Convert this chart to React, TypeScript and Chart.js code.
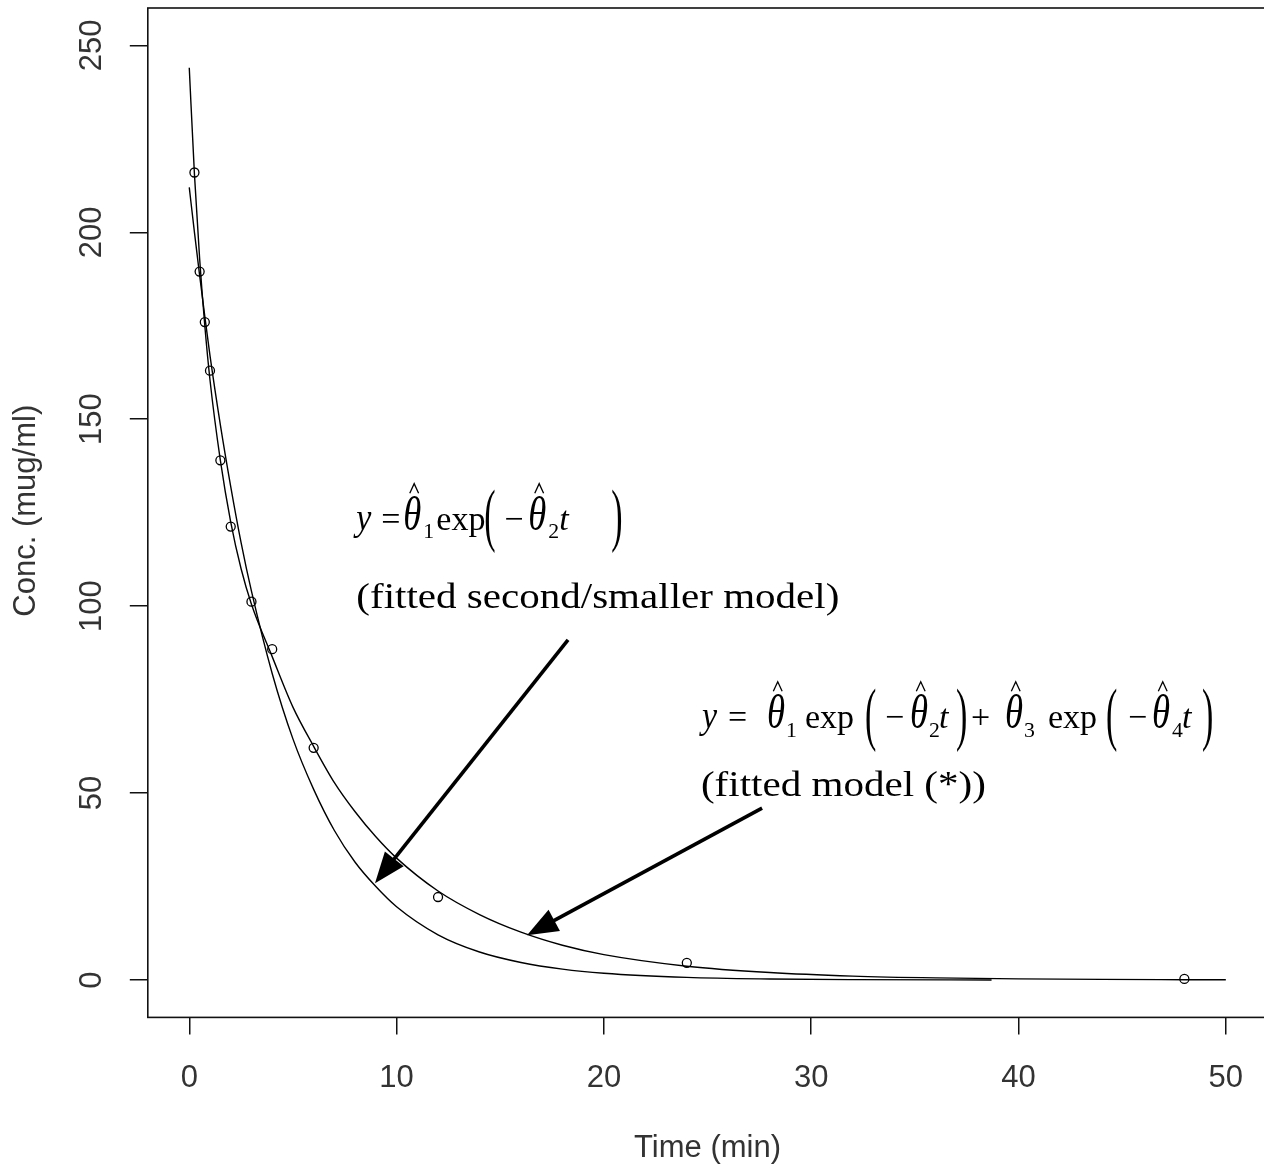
import React, { useEffect, useRef } from "react";
import { Chart, registerables } from "chart.js";

Chart.register(...registerables);

// ---- Observed concentrations ----
const obsTime = [0.25, 0.5, 0.75, 1, 1.5, 2, 3, 4, 6, 12, 24, 48];
const obsConc = [216, 189.5, 176, 163, 139, 121.3, 101.2, 88.5, 62.1, 22.2, 4.6, 0.3];

// ---- Fitted model (*) curve ----
const fullFitTime = [0, 0.25, 0.5, 0.75, 1, 1.5, 2, 2.5, 3, 4, 5, 6, 7, 8, 9, 10, 12, 14, 16, 18, 20, 24, 28, 32, 36, 40, 44, 48, 50];
const fullFitConc = [244, 215.5, 193, 175, 160.5, 139, 122.5, 110, 100.5, 86.5, 73, 62.5, 52.8, 45, 38.3, 32.6, 23.8, 17.5, 12.8, 9.3, 6.8, 3.7, 2.0, 1.05, 0.56, 0.3, 0.16, 0.09, 0.06];

// ---- Fitted second/smaller model curve ----
const smallFitTime = [0, 0.25, 0.5, 0.75, 1, 1.5, 2, 2.5, 3, 4, 5, 6, 7, 8, 9, 10, 12, 14, 16, 18, 20, 24, 28, 32, 38.7];
const smallFitConc = [212, 200, 188.5, 177.5, 167, 148.5, 132, 117, 104, 82, 64.5, 51, 40, 31.5, 25, 19.6, 12.1, 7.5, 4.7, 2.9, 1.8, 0.7, 0.27, 0.1, 0.02];

// ---- Axis settings ----
const xRange = [-2, 52];
const yRange = [-10, 260];
const xStep = 10;
const yStep = 50;
const xTitle = "Time (min)";
const yTitle = "Conc. (mug/ml)";

// ---- Annotations ----
const label1 = "(fitted second/smaller model)";
const label2 = "(fitted model (*))";

const CANVAS_W = 1290;
const CANVAS_H = 1169;
const AREA = { left: 147.8, top: 8, right: 1267.3, bottom: 1017.4 };

const SANS = '"Liberation Sans", Arial, sans-serif';
const SERIF = '"Liberation Serif", "Times New Roman", serif';
const LABEL_INK = "#333333";

type Tok = { s: string; dx: number; it?: boolean; hat?: boolean; sub?: string; subDx?: number; paren?: boolean };

// formula token layouts: dx = offset in px from the formula's left edge
const formula1: Tok[] = [
  { s: "y", dx: 0, it: true },
  { s: "=", dx: 25 },
  { s: "θ", dx: 47, it: true, hat: true, sub: "1", subDx: 20 },
  { s: "exp", dx: 80 },
  { s: "(", dx: 128, paren: true },
  { s: "−", dx: 148 },
  { s: "θ", dx: 172, it: true, hat: true, sub: "2", subDx: 20 },
  { s: "t", dx: 203, it: true },
  { s: ")", dx: 255, paren: true },
];

const formula2: Tok[] = [
  { s: "y", dx: 1, it: true },
  { s: "=", dx: 27 },
  { s: "θ", dx: 66, it: true, hat: true, sub: "1", subDx: 19 },
  { s: "exp", dx: 104 },
  { s: "(", dx: 164, paren: true },
  { s: "−", dx: 184 },
  { s: "θ", dx: 209, it: true, hat: true, sub: "2", subDx: 19 },
  { s: "t", dx: 238, it: true },
  { s: ")", dx: 255, paren: true },
  { s: "+", dx: 270 },
  { s: "θ", dx: 304, it: true, hat: true, sub: "3", subDx: 19 },
  { s: "exp", dx: 347 },
  { s: "(", dx: 405, paren: true },
  { s: "−", dx: 427 },
  { s: "θ", dx: 451, it: true, hat: true, sub: "4", subDx: 20 },
  { s: "t", dx: 481, it: true },
  { s: ")", dx: 501, paren: true },
];

function drawFormula(ctx: CanvasRenderingContext2D, toks: Tok[], x: number, y: number, fs: number) {
  ctx.save();
  ctx.fillStyle = "#000";
  ctx.strokeStyle = "#000";
  ctx.textBaseline = "alphabetic";
  ctx.textAlign = "left";
  for (const t of toks) {
    const px = x + t.dx;
    if (t.paren) {
      ctx.font = `${fs}px ${SERIF}`;
      ctx.save();
      const c = 0.24 * fs;
      ctx.translate(px, y - c);
      ctx.scale(1, 2.05);
      ctx.fillText(t.s, 0, c);
      ctx.restore();
    } else if (t.hat) {
      const tfs = fs * 1.08;
      ctx.font = `italic ${tfs}px ${SERIF}`;
      ctx.save();
      ctx.translate(px, y);
      ctx.scale(1, 1.3);
      ctx.fillText(t.s, 0, 0);
      ctx.restore();
      const w = ctx.measureText(t.s).width;
      const hx = px + w * 0.6;
      ctx.lineWidth = 1.3;
      ctx.beginPath();
      ctx.moveTo(hx - 0.13 * fs, y - 1.08 * fs);
      ctx.lineTo(hx, y - 1.36 * fs);
      ctx.lineTo(hx + 0.13 * fs, y - 1.08 * fs);
      ctx.stroke();
      if (t.sub) {
        ctx.font = `${fs * 0.64}px ${SERIF}`;
        ctx.fillText(t.sub, px + (t.subDx ?? w), y + 0.25 * fs);
      }
    } else {
      ctx.font = `${t.it ? "italic " : ""}${fs}px ${SERIF}`;
      if (t.it && t.s === "y") {
        ctx.save();
        ctx.translate(px, y);
        ctx.scale(1, 1.12);
        ctx.fillText(t.s, 0, 0);
        ctx.restore();
      } else {
        ctx.fillText(t.s, px, y);
      }
    }
  }
  ctx.restore();
}

function drawStretchedText(ctx: CanvasRenderingContext2D, text: string, x: number, y: number, fs: number, width: number) {
  ctx.save();
  ctx.font = `${fs}px ${SERIF}`;
  ctx.fillStyle = "#000";
  ctx.textBaseline = "alphabetic";
  ctx.textAlign = "left";
  const w = ctx.measureText(text).width;
  ctx.translate(x, y);
  ctx.scale(width / w, 1);
  ctx.fillText(text, 0, 0);
  ctx.restore();
}

function drawArrow(ctx: CanvasRenderingContext2D, x0: number, y0: number, x1: number, y1: number) {
  const dx = x1 - x0;
  const dy = y1 - y0;
  const len = Math.hypot(dx, dy);
  const ux = dx / len;
  const uy = dy / len;
  const headLen = 31;
  const halfW = 12;
  const bx = x1 - ux * headLen;
  const by = y1 - uy * headLen;
  ctx.save();
  ctx.strokeStyle = "#000";
  ctx.fillStyle = "#000";
  ctx.lineWidth = 3.6;
  ctx.beginPath();
  ctx.moveTo(x0, y0);
  ctx.lineTo(bx + ux * 2, by + uy * 2);
  ctx.stroke();
  ctx.beginPath();
  ctx.moveTo(x1, y1);
  ctx.lineTo(bx - uy * halfW, by + ux * halfW);
  ctx.lineTo(bx + uy * halfW, by - ux * halfW);
  ctx.closePath();
  ctx.fill();
  ctx.restore();
}

// arrow endpoints in data coordinates (tail -> tip)
const arrows = [
  { from: [18.27, 91.0], to: [8.96, 25.9] },
  { from: [27.63, 46.0], to: [16.29, 12.0] },
];

const rPlot = {
  id: "rPlot",
  afterDraw(chart: any) {
    const ctx: CanvasRenderingContext2D = chart.ctx;
    const { left, right, top, bottom } = chart.chartArea;
    const xs = chart.scales.x;
    const ys = chart.scales.y;

    // box
    ctx.save();
    ctx.strokeStyle = "#111";
    ctx.lineWidth = 1.6;
    ctx.strokeRect(left, top, right - left, bottom - top);
    ctx.restore();

    // tick labels
    ctx.save();
    ctx.fillStyle = LABEL_INK;
    ctx.font = `31px ${SANS}`;
    ctx.textAlign = "center";
    ctx.textBaseline = "alphabetic";
    for (const t of xs.ticks) {
      ctx.fillText(String(t.value), xs.getPixelForValue(t.value), bottom + 70);
    }
    for (const t of ys.ticks) {
      ctx.save();
      ctx.translate(left - 47, ys.getPixelForValue(t.value));
      ctx.rotate(-Math.PI / 2);
      ctx.fillText(String(t.value), 0, 0);
      ctx.restore();
    }
    // axis titles
    ctx.fillText(xTitle, (left + right) / 2, bottom + 140);
    ctx.save();
    ctx.translate(35, (top + bottom) / 2 - 2);
    ctx.rotate(-Math.PI / 2);
    ctx.fillText(yTitle, 0, 0);
    ctx.restore();
    ctx.restore();

    // annotations
    const X = (v: number) => xs.getPixelForValue(v);
    const Y = (v: number) => ys.getPixelForValue(v);
    drawFormula(ctx, formula1, X(8.06), Y(120.4), 34);
    drawStretchedText(ctx, label1, X(8.06), Y(99.6), 35, 483);
    drawFormula(ctx, formula2, X(24.68), Y(67.4), 34);
    drawStretchedText(ctx, label2, X(24.68), Y(49.2), 35, 285);

    for (const a of arrows) {
      drawArrow(ctx, X(a.from[0]), Y(a.from[1]), X(a.to[0]), Y(a.to[1]));
    }
  },
};

export default function App() {
  const ref = useRef<HTMLCanvasElement>(null);
  useEffect(() => {
    const canvas = ref.current;
    if (!canvas) return;
    const chart = new Chart(canvas, {
      type: "line",
      data: {
        datasets: [
          {
            label: "Observed",
            data: obsTime.map((t, i) => ({ x: t, y: obsConc[i] })),
            showLine: false,
            pointStyle: "circle",
            pointRadius: 4.5,
            pointBorderWidth: 1.3,
            pointBorderColor: "#000",
            pointBackgroundColor: "rgba(0,0,0,0)",
            borderColor: "#000",
          },
          {
            label: "Fitted model (*)",
            data: fullFitTime.map((t, i) => ({ x: t, y: fullFitConc[i] })),
            showLine: true,
            pointRadius: 0,
            borderWidth: 1.4,
            borderColor: "#000",
            cubicInterpolationMode: "monotone",
            fill: false,
          },
          {
            label: "Fitted second/smaller model",
            data: smallFitTime.map((t, i) => ({ x: t, y: smallFitConc[i] })),
            showLine: true,
            pointRadius: 0,
            borderWidth: 1.4,
            borderColor: "#000",
            cubicInterpolationMode: "monotone",
            fill: false,
          },
        ],
      },
      options: {
        responsive: false,
        animation: false,
        events: [],
        layout: { padding: { left: 0, top: AREA.top, right: CANVAS_W - AREA.right, bottom: 0 } },
        plugins: { legend: { display: false }, tooltip: { enabled: false }, title: { display: false } },
        scales: {
          x: {
            type: "linear",
            min: xRange[0],
            max: xRange[1],
            ticks: { stepSize: xStep, includeBounds: false, display: false },
            grid: { drawOnChartArea: false, drawTicks: true, tickLength: 17, color: "#111", lineWidth: 1.5 },
            border: { display: false },
            afterFit: (s: any) => {
              s.height = CANVAS_H - AREA.bottom;
            },
          },
          y: {
            type: "linear",
            min: yRange[0],
            max: yRange[1],
            ticks: { stepSize: yStep, includeBounds: false, display: false },
            grid: { drawOnChartArea: false, drawTicks: true, tickLength: 18, color: "#111", lineWidth: 1.5 },
            border: { display: false },
            afterFit: (s: any) => {
              s.width = AREA.left;
            },
          },
        },
      },
      plugins: [rPlot],
    } as any);
    return () => chart.destroy();
  }, []);

  return (
    <div style={{ position: "fixed", left: 0, top: 0, width: 1264, height: 1169, overflow: "hidden", background: "#fff" }}>
      <canvas ref={ref} width={CANVAS_W} height={CANVAS_H} style={{ display: "block", width: CANVAS_W, height: CANVAS_H }} />
    </div>
  );
}
